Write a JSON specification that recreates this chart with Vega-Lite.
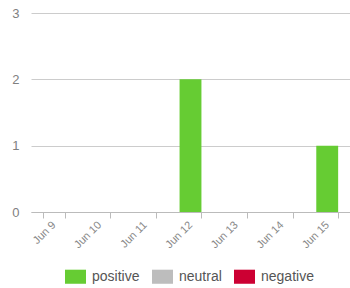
{
  "$schema": "https://vega.github.io/schema/vega-lite/v6.json",
  "width": 319,
  "height": 199,
  "autosize": {"type": "none"},
  "padding": {"left": 31, "top": 13, "right": 0, "bottom": 76},
  "background": "white",
  "config": {
    "view": {"stroke": null},
    "font": "Liberation Sans"
  },
  "data": {
    "values": [
      {"day": "Jun 9", "sentiment": "positive", "count": 0},
      {"day": "Jun 10", "sentiment": "positive", "count": 0},
      {"day": "Jun 11", "sentiment": "positive", "count": 0},
      {"day": "Jun 12", "sentiment": "positive", "count": 2},
      {"day": "Jun 13", "sentiment": "positive", "count": 0},
      {"day": "Jun 14", "sentiment": "positive", "count": 0},
      {"day": "Jun 15", "sentiment": "positive", "count": 1},
      {"day": "Jun 12", "sentiment": "neutral", "count": 0},
      {"day": "Jun 12", "sentiment": "negative", "count": 0}
    ]
  },
  "mark": {"type": "bar"},
  "encoding": {
    "x": {
      "field": "day",
      "type": "ordinal",
      "sort": ["Jun 9", "Jun 10", "Jun 11", "Jun 12", "Jun 13", "Jun 14", "Jun 15"],
      "scale": {"paddingInner": 0.52, "paddingOuter": 0.26},
      "axis": {
        "title": null,
        "labelAngle": -45,
        "labelAlign": "right",
        "labelBaseline": "middle",
        "labelFontSize": 11,
        "labelColor": "#888888",
        "labelPadding": 5,
        "tickBand": "extent",
        "tickColor": "#bbbbbb",
        "tickSize": 6,
        "domainColor": "#bbbbbb",
        "grid": false
      }
    },
    "y": {
      "field": "count",
      "type": "quantitative",
      "stack": "zero",
      "scale": {"domain": [0, 3], "nice": false},
      "axis": {
        "title": null,
        "values": [0, 1, 2, 3],
        "labelColor": "#808080",
        "labelFontSize": 13,
        "labelPadding": 12,
        "ticks": false,
        "domain": false,
        "gridColor": "#cccccc"
      }
    },
    "color": {
      "field": "sentiment",
      "type": "nominal",
      "sort": ["positive", "neutral", "negative"],
      "scale": {
        "domain": ["positive", "neutral", "negative"],
        "range": ["#66cc33", "#bdbdbd", "#cc0033"]
      },
      "legend": {
        "title": null,
        "orient": "none",
        "legendX": 34,
        "legendY": 253,
        "direction": "horizontal",
        "symbolType": "M-1,-0.67H1V0.67H-1Z",
        "symbolSize": 441,
        "symbolStrokeWidth": 0,
        "symbolOpacity": 1,
        "labelFontSize": 14,
        "labelColor": "#555555",
        "columnPadding": 12,
        "labelOffset": 6
      }
    }
  }
}
